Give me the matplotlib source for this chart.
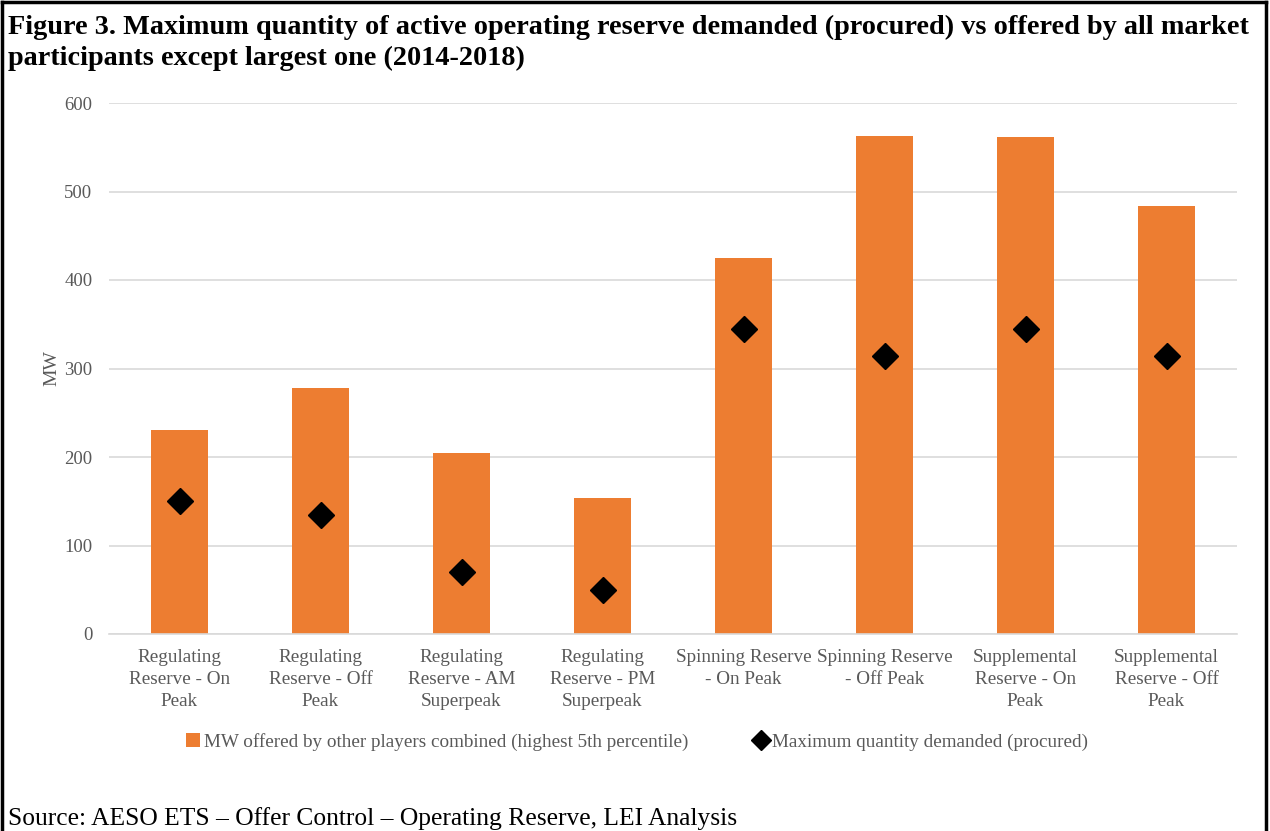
import matplotlib

matplotlib.use("Agg")
import matplotlib.pyplot as plt
from matplotlib.lines import Line2D
from matplotlib.patches import Patch

plt.rcParams["font.family"] = ["Liberation Serif", "DejaVu Serif"]

GRAY = "#595959"
GRID = "#D9D9D9"
ORANGE = "#ED7D31"

categories = [
    "Regulating\nReserve - On\nPeak",
    "Regulating\nReserve - Off\nPeak",
    "Regulating\nReserve - AM\nSuperpeak",
    "Regulating\nReserve - PM\nSuperpeak",
    "Spinning Reserve\n- On Peak",
    "Spinning Reserve\n- Off Peak",
    "Supplemental\nReserve - On\nPeak",
    "Supplemental\nReserve - Off\nPeak",
]
offered = [230, 278, 205, 154, 425, 563, 562, 484]
demanded = [150, 134, 70, 50, 345, 314, 345, 314]
yticks = [0, 100, 200, 300, 400, 500, 600]

fig = plt.figure(figsize=(12.7, 8.31), dpi=100)
fig.patch.set_facecolor("white")
ax = fig.add_axes([109 / 1270, 1 - 634 / 831, 1128 / 1270, 531 / 831])

x = list(range(len(categories)))
ax.bar(x, offered, width=0.41, color=ORANGE, zorder=2)
ax.plot(x, demanded, linestyle="none", marker="D", markersize=13,
        color="black", zorder=3)

ax.set_xlim(-0.5, len(categories) - 0.5)
ax.set_ylim(0, 600)
ax.set_yticks(yticks)
ax.set_xticks(x)
ax.set_xticklabels(categories, fontsize=13.8, color=GRAY, linespacing=1.38)
ax.tick_params(axis="both", length=0, labelcolor=GRAY)
ax.tick_params(axis="y", labelsize=13.5, pad=12)
ax.tick_params(axis="x", pad=11)
ax.grid(axis="y", color=GRID, linewidth=1.2, zorder=0)
ax.set_axisbelow(True)
for side in ["top", "right", "left"]:
    ax.spines[side].set_visible(False)
ax.spines["bottom"].set_color(GRID)
ax.spines["bottom"].set_linewidth(1.2)
ax.set_ylabel("MW", fontsize=14, color=GRAY, labelpad=3)

handles = [
    Patch(facecolor=ORANGE, edgecolor="none",
          label="MW offered by other players combined (highest 5th percentile)"),
    Line2D([], [], linestyle="none", marker="D", markersize=10, color="black",
           label="Maximum quantity demanded (procured)"),
]
fig.legend(handles=handles, loc="center", bbox_to_anchor=(637 / 1270, 1 - 742 / 831),
           ncol=2, frameon=False, fontsize=13.8, labelcolor=GRAY,
           handlelength=0.75, handleheight=0.75, handletextpad=0.2, columnspacing=3.4)

fig.text(8 / 1270, 1 - 15 / 831,
         "Figure 3. Maximum quantity of active operating reserve demanded (procured) vs offered by all market\n"
         "participants except largest one (2014-2018)",
         ha="left", va="top", fontsize=20.3, fontweight="bold", linespacing=1.3)
fig.text(8 / 1270, 1 - 819 / 831, "Source: AESO ETS \u2013 Offer Control \u2013 Operating Reserve, LEI Analysis",
         ha="left", va="center", fontsize=18.4)

# frame around the figure (open at the bottom)
for xs, ys in [((2, 2), (0, 829)), ((2, 1266), (829, 829)), ((1266, 1266), (829, 0))]:
    fig.add_artist(Line2D([v / 1270 for v in xs], [v / 831 for v in ys],
                          color="black", linewidth=2.5, transform=fig.transFigure))

fig.savefig("out.png", dpi=100)
